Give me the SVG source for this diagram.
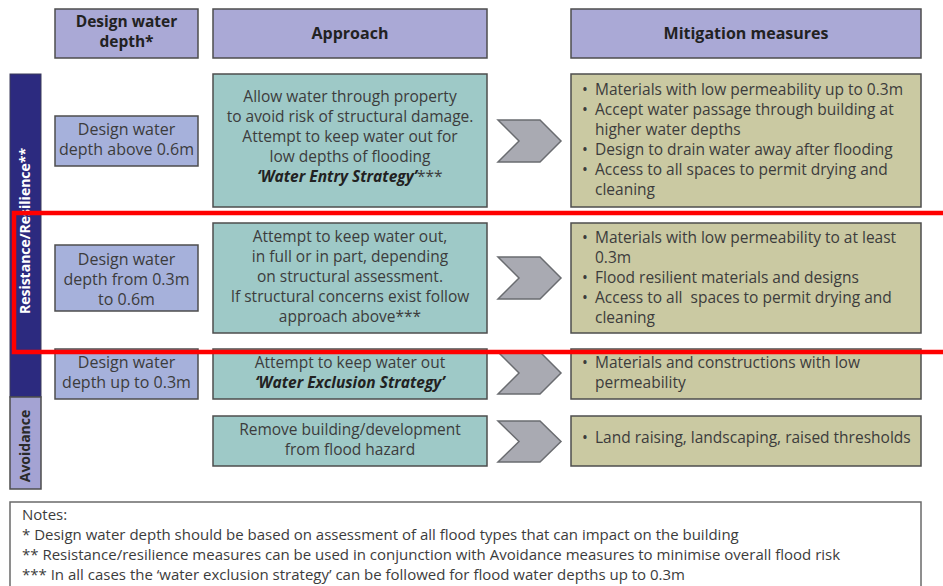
<svg xmlns="http://www.w3.org/2000/svg" width="943" height="586" viewBox="0 0 943 586">
<style>
  text { font-family: "Open Sans", "Liberation Sans", sans-serif; fill: #3c3c3c; font-size: 15.5px; }
  .hdr { fill: #aaa9d6; stroke: #4d4d4d; stroke-width: 1.5; }
  .dep { fill: #a6b1db; stroke: #4d4d4d; stroke-width: 1.5; }
  .app { fill: #9ec9c7; stroke: #4d4d4d; stroke-width: 1.5; }
  .mit { fill: #cac9a2; stroke: #4d4d4d; stroke-width: 1.5; }
  .chev { fill: #a9aab2; stroke: #6a6c70; stroke-width: 1.5; }
  .b { font-weight: bold; fill: #222; }
  .h { font-size: 16px; }
  .d { font-size: 16px; }
  .c { text-anchor: middle; }
  .bi { font-weight: bold; font-style: italic; fill: #222; }
  .note { font-size: 15px; }
</style>

<g id="side-resistance">
  <rect x="10" y="74" width="31" height="323" fill="#2c2a7f" stroke="#3a3a5a" stroke-width="1"/>
  <text transform="translate(30,231) rotate(-90)" class="c" style="font-weight:bold;font-size:14px;fill:#ffffff">Resistance/Resilience**</text>
</g>
<g id="side-avoidance">
  <rect x="10" y="397" width="31" height="92" fill="#a4a3d3" stroke="#4d4d4d" stroke-width="1.5"/>
  <text transform="translate(30,446) rotate(-90)" class="c" style="font-weight:bold;font-size:14px;fill:#2a2a2a">Avoidance</text>
</g>

<g id="hdr-depth">
  <rect class="hdr" x="55" y="9" width="143" height="49"/>
  <text class="b c" x="126.5" y="27">Design water</text>
  <text class="b c" x="126.5" y="47">depth*</text>
</g>
<g id="hdr-approach">
  <rect class="hdr" x="213" y="9" width="274" height="49"/>
  <text class="b c h" x="350" y="39">Approach</text>
</g>
<g id="hdr-mitigation">
  <rect class="hdr" x="571" y="9" width="350" height="49"/>
  <text class="b c h" x="746" y="39">Mitigation measures</text>
</g>

<g id="depth-1">
  <rect class="dep" x="55" y="116" width="143" height="50"/>
  <text class="c d" x="126.5" y="135">Design water</text>
  <text class="c d" x="126.5" y="155">depth above 0.6m</text>
</g>
<g id="approach-1">
  <rect class="app" x="213" y="74" width="274" height="133"/>
  <text class="c" x="350" y="102">Allow water through property</text>
  <text class="c" x="350" y="122">to avoid risk of structural damage.</text>
  <text class="c" x="350" y="142">Attempt to keep water out for</text>
  <text class="c" x="350" y="162">low depths of flooding</text>
  <text class="c" x="350" y="182"><tspan class="bi">‘Water Entry Strategy’</tspan>***</text>
</g>
<g id="mitigation-1">
  <rect class="mit" x="571" y="74" width="350" height="133"/>
  <text x="582" y="95">•</text><text x="595" y="95">Materials with low permeability up to 0.3m</text>
  <text x="582" y="115">•</text><text x="595" y="115">Accept water passage through building at</text>
  <text x="595" y="135">higher water depths</text>
  <text x="582" y="155">•</text><text x="595" y="155">Design to drain water away after flooding</text>
  <text x="582" y="175">•</text><text x="595" y="175">Access to all spaces to permit drying and</text>
  <text x="595" y="195">cleaning</text>
</g>

<g id="depth-2">
  <rect class="dep" x="55" y="245" width="143" height="66"/>
  <text class="c d" x="126.5" y="265">Design water</text>
  <text class="c d" x="126.5" y="285">depth from 0.3m</text>
  <text class="c d" x="126.5" y="305">to 0.6m</text>
</g>
<g id="approach-2">
  <rect class="app" x="213" y="223" width="274" height="110"/>
  <text class="c" x="350" y="242">Attempt to keep water out,</text>
  <text class="c" x="350" y="262">in full or in part, depending</text>
  <text class="c" x="350" y="282">on structural assessment.</text>
  <text class="c" x="350" y="302">If structural concerns exist follow</text>
  <text class="c" x="350" y="322">approach above***</text>
</g>
<g id="mitigation-2">
  <rect class="mit" x="571" y="223" width="350" height="110"/>
  <text x="582" y="243">•</text><text x="595" y="243">Materials with low permeability to at least</text>
  <text x="595" y="263">0.3m</text>
  <text x="582" y="283">•</text><text x="595" y="283">Flood resilient materials and designs</text>
  <text x="582" y="303">•</text><text x="595" y="303" xml:space="preserve">Access to all  spaces to permit drying and</text>
  <text x="595" y="323">cleaning</text>
</g>

<g id="depth-3">
  <rect class="dep" x="55" y="349" width="143" height="50"/>
  <text class="c d" x="126.5" y="368">Design water</text>
  <text class="c d" x="126.5" y="388">depth up to 0.3m</text>
</g>
<g id="approach-3">
  <rect class="app" x="213" y="349" width="274" height="50"/>
  <text class="c" x="350" y="368">Attempt to keep water out</text>
  <text class="c bi" x="350" y="388">‘Water Exclusion Strategy’</text>
</g>
<g id="mitigation-3">
  <rect class="mit" x="571" y="349" width="350" height="50"/>
  <text x="582" y="368">•</text><text x="595" y="368">Materials and constructions with low</text>
  <text x="595" y="388">permeability</text>
</g>

<g id="approach-4">
  <rect class="app" x="213" y="416" width="274" height="50"/>
  <text class="c" x="350" y="435">Remove building/development</text>
  <text class="c" x="350" y="455">from flood hazard</text>
</g>
<g id="mitigation-4">
  <rect class="mit" x="571" y="416" width="350" height="50"/>
  <text x="582" y="443">•</text><text x="595" y="443">Land raising, landscaping, raised thresholds</text>
</g>

<g id="connectors">
  <polygon class="chev" points="498,120 540,120 561,141 540,162 498,162 519,141"/>
  <polygon class="chev" points="498,257 540,257 561,278 540,299 498,299 519,278"/>
  <polygon class="chev" points="498,352 540,352 561,373 540,394 498,394 519,373"/>
  <polygon class="chev" points="498,421 540,421 561,441.5 540,462 498,462 519,441.5"/>
</g>

<g id="notes">
  <rect x="10" y="502" width="911" height="90" fill="#ffffff" stroke="#6a6a6a" stroke-width="1.5"/>
  <text class="note" x="22" y="520">Notes:</text>
  <text class="note" x="22" y="540">* Design water depth should be based on assessment of all flood types that can impact on the building</text>
  <text class="note" x="22" y="560">** Resistance/resilience measures can be used in conjunction with Avoidance measures to minimise overall flood risk</text>
  <text class="note" x="22" y="580">*** In all cases the ‘water exclusion strategy’ can be followed for flood water depths up to 0.3m</text>
</g>

<g id="highlight">
  <path d="M943 213 H14 V352 H943" fill="none" stroke="#ff0000" stroke-width="4.5"/>
</g>
</svg>
